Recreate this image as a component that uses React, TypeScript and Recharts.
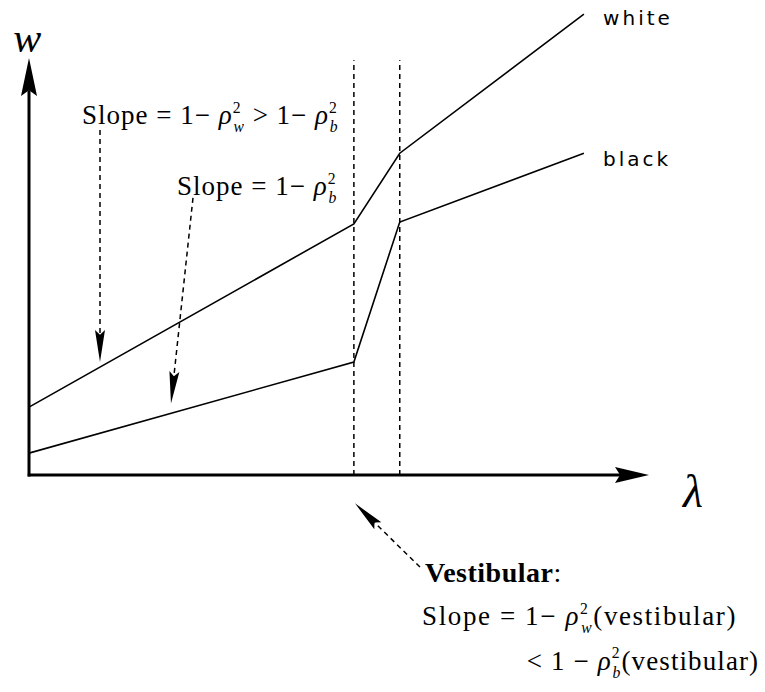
import React from 'react';
import { LineChart, Line, XAxis, YAxis, ReferenceLine, ReferenceDot } from 'recharts';

// ---- data (chart units) ----
const whiteSeries = [
  { x: 0, y: 1.46 },
  { x: 5.24, y: 5.4 },
  { x: 5.98, y: 6.92 },
  { x: 8.95, y: 9.91 },
];
const blackSeries = [
  { x: 0, y: 0.47 },
  { x: 5.24, y: 2.43 },
  { x: 5.98, y: 5.44 },
  { x: 8.95, y: 6.92 },
];
const vestibularBounds = [5.24, 5.98];
const dashedTop = 8.92;
const xAxisEnd = 10;
const yAxisEnd = 8.97;
const slopeArrows = [
  { id: 'a1', from: { x: 1.145, y: 7.42 }, to: { x: 1.145, y: 2.43 } },
  { id: 'a2', from: { x: 2.645, y: 5.96 }, to: { x: 2.29, y: 1.54 } },
  { id: 'a3', from: { x: 6.306, y: -1.98 }, to: { x: 5.258, y: -0.61 } },
];
const textLabels = [
  { id: 'w', x: -0.03, y: 9.1, kind: 'w' },
  { id: 'lambda', x: 10.55, y: -0.69, kind: 'lambda' },
  { id: 'white', x: 9.26, y: 9.68, kind: 'white' },
  { id: 'black', x: 9.26, y: 6.645, kind: 'black' },
  { id: 'slope1', x: 0.855, y: 7.55, kind: 'slope1' },
  { id: 'slope2', x: 2.387, y: 6.02, kind: 'slope2' },
  { id: 'vest', x: 6.387, y: -2.3, kind: 'vest' },
  { id: 'vest2', x: 6.34, y: -3.23, kind: 'vest2' },
  { id: 'vest3', x: 8.03, y: -4.19, kind: 'vest3' },
];

const SERIF = '"Liberation Serif", "Times New Roman", serif';
const SANS = '"DejaVu Sans", sans-serif';
const FS = 27;

const rho = (sub: string, key: string, fs: number) => [
  <tspan key={key + 'r'} fontStyle="italic">ρ</tspan>,
  <tspan key={key + 'p'} fontSize={fs * 0.58} dy={-fs * 0.42}>2</tspan>,
  <tspan key={key + 's'} fontSize={fs * 0.58} fontStyle="italic" dx={-fs * 0.3} dy={fs * 0.72}>{sub}</tspan>,
];

const renderLabel = (kind: string) => (props: any) => {
  const { cx, cy } = props;
  const common = { x: cx, y: cy, fill: '#000' } as any;
  switch (kind) {
    case 'w':
      return <text {...common} textAnchor="middle" fontFamily={SERIF} fontStyle="italic" fontSize={42}>w</text>;
    case 'lambda':
      return <text {...common} fontFamily={SERIF} fontStyle="italic" fontSize={46}>λ</text>;
    case 'white':
      return <text {...common} fontFamily={SANS} fontSize={20} letterSpacing={3}>white</text>;
    case 'black':
      return <text {...common} fontFamily={SANS} fontSize={20} letterSpacing={3}>black</text>;
    case 'slope1':
      return (
        <text {...common} fontFamily={SERIF} fontSize={FS} letterSpacing={1}>
          <tspan>Slope = 1− </tspan>
          {rho('w', 'a', FS)}
          <tspan dy={-FS * 0.3}> &gt; 1− </tspan>
          {rho('b', 'b', FS)}
        </text>
      );
    case 'slope2':
      return (
        <text {...common} fontFamily={SERIF} fontSize={FS} letterSpacing={1}>
          <tspan>Slope = 1− </tspan>
          {rho('b', 'c', FS)}
        </text>
      );
    case 'vest':
      return <text {...common} fontFamily={SERIF} fontSize={28} fontWeight="bold" letterSpacing={0.5}>Vestibular<tspan fontWeight="normal">:</tspan></text>;
    case 'vest2':
      return (
        <text {...common} fontFamily={SERIF} fontSize={FS} letterSpacing={1.6}>
          <tspan>Slope = 1− </tspan>
          {rho('w', 'd', FS)}
          <tspan dy={-FS * 0.3}>(vestibular)</tspan>
        </text>
      );
    case 'vest3':
      return (
        <text {...common} fontFamily={SERIF} fontSize={FS} letterSpacing={1.1}>
          <tspan>&lt; 1 − </tspan>
          {rho('b', 'e', FS)}
          <tspan dy={-FS * 0.3}>(vestibular)</tspan>
        </text>
      );
    default:
      return <g />;
  }
};

const arrowShape = (len: number, half: number, sw: number, dash?: string) => (p: any) => {
  const { x1, y1, x2, y2 } = p;
  const dx = x2 - x1;
  const dy = y2 - y1;
  const L = Math.hypot(dx, dy) || 1;
  const ux = dx / L;
  const uy = dy / L;
  const bx = x2 - ux * len;
  const by = y2 - uy * len;
  const px = -uy;
  const py = ux;
  const nx = x2 - ux * len * 0.85;
  const ny = y2 - uy * len * 0.85;
  return (
    <g>
      <line x1={x1} y1={y1} x2={nx} y2={ny} stroke="#000" strokeWidth={sw} strokeDasharray={dash} />
      <polygon
        points={`${x2},${y2} ${bx + px * half},${by + py * half} ${nx},${ny} ${bx - px * half},${by - py * half}`}
        fill="#000"
      />
    </g>
  );
};

export default function App() {
  return (
    <div style={{ position: 'absolute', left: 0, top: 0, background: '#fff' }}>
      <LineChart width={765} height={692} margin={{ top: 10, right: 116, bottom: 217, left: 29 }}>
        <XAxis type="number" dataKey="x" domain={[0, 10]} hide />
        <YAxis type="number" dataKey="y" domain={[0, 10]} hide />
        {vestibularBounds.map((v) => (
          <ReferenceLine
            key={'v' + v}
            segment={[{ x: v, y: 0 }, { x: v, y: dashedTop }]}
            stroke="#000"
            strokeWidth={1.5}
            strokeDasharray="5 4"
            ifOverflow="visible"
          />
        ))}
        <Line data={whiteSeries} dataKey="y" stroke="#000" strokeWidth={1.6} dot={false} isAnimationActive={false} />
        <Line data={blackSeries} dataKey="y" stroke="#000" strokeWidth={1.6} dot={false} isAnimationActive={false} />
        <ReferenceLine
          segment={[{ x: -0.02, y: 0 }, { x: xAxisEnd, y: 0 }]}
          ifOverflow="visible"
          shape={arrowShape(34, 8, 3)}
        />
        <ReferenceLine
          segment={[{ x: 0, y: -0.03 }, { x: 0, y: yAxisEnd }]}
          ifOverflow="visible"
          shape={arrowShape(38, 8, 3)}
        />
        {slopeArrows.map((a) => (
          <ReferenceLine
            key={a.id}
            segment={[a.from, a.to]}
            ifOverflow="visible"
            shape={arrowShape(32, 5, 1.5, '5 4')}
          />
        ))}
        {textLabels.map((t) => (
          <ReferenceDot key={t.id} x={t.x} y={t.y} r={0} ifOverflow="visible" shape={renderLabel(t.kind)} />
        ))}
      </LineChart>
    </div>
  );
}
